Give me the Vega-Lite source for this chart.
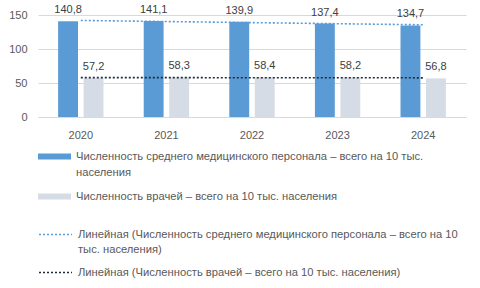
{
  "$schema": "https://vega.github.io/schema/vega-lite/v6.json",
  "width": 428,
  "height": 102,
  "autosize": "none",
  "padding": {"left": 38, "top": 15, "right": 14, "bottom": 171},
  "config": {
    "view": {"stroke": null},
    "font": "Liberation Sans",
    "locale": {"number": {"decimal": ",", "thousands": " ", "grouping": [3], "currency": ["", ""]}},
    "axis": {"labelFont": "Liberation Sans", "labelFontSize": 11, "labelColor": "#595959", "ticks": false, "title": null, "gridColor": "#d9d9d9", "domainColor": "#d9d9d9"},
    "legend": {"labelFont": "Liberation Sans", "labelFontSize": 11.2, "labelColor": "#595959", "labelLimit": 420, "title": null}
  },
  "data": {
    "values": [
      {"year": 2020, "series": "Численность среднего медицинского персонала – всего на 10 тыс. населения", "trend": "Линейная (Численность среднего медицинского персонала – всего на 10 тыс. населения)", "value": 140.8},
      {"year": 2021, "series": "Численность среднего медицинского персонала – всего на 10 тыс. населения", "trend": "Линейная (Численность среднего медицинского персонала – всего на 10 тыс. населения)", "value": 141.1},
      {"year": 2022, "series": "Численность среднего медицинского персонала – всего на 10 тыс. населения", "trend": "Линейная (Численность среднего медицинского персонала – всего на 10 тыс. населения)", "value": 139.9},
      {"year": 2023, "series": "Численность среднего медицинского персонала – всего на 10 тыс. населения", "trend": "Линейная (Численность среднего медицинского персонала – всего на 10 тыс. населения)", "value": 137.4},
      {"year": 2024, "series": "Численность среднего медицинского персонала – всего на 10 тыс. населения", "trend": "Линейная (Численность среднего медицинского персонала – всего на 10 тыс. населения)", "value": 134.7},
      {"year": 2020, "series": "Численность врачей – всего на 10 тыс. населения", "trend": "Линейная (Численность врачей – всего на 10 тыс. населения)", "value": 57.2},
      {"year": 2021, "series": "Численность врачей – всего на 10 тыс. населения", "trend": "Линейная (Численность врачей – всего на 10 тыс. населения)", "value": 58.3},
      {"year": 2022, "series": "Численность врачей – всего на 10 тыс. населения", "trend": "Линейная (Численность врачей – всего на 10 тыс. населения)", "value": 58.4},
      {"year": 2023, "series": "Численность врачей – всего на 10 тыс. населения", "trend": "Линейная (Численность врачей – всего на 10 тыс. населения)", "value": 58.2},
      {"year": 2024, "series": "Численность врачей – всего на 10 тыс. населения", "trend": "Линейная (Численность врачей – всего на 10 тыс. населения)", "value": 56.8}
    ]
  },
  "encoding": {
    "x": {
      "field": "year", "type": "ordinal",
      "scale": {"paddingInner": 0.47, "paddingOuter": 0.235},
      "axis": {"labelAngle": 0, "labelPadding": 12, "grid": false, "domain": true}
    },
    "y": {
      "field": "value", "type": "quantitative",
      "scale": {"domain": [0, 150], "nice": false},
      "axis": {"values": [0, 50, 100, 150], "domain": false, "labelPadding": 11, "grid": true}
    }
  },
  "layer": [
    {
      "mark": {"type": "bar"},
      "encoding": {
        "xOffset": {"field": "series", "type": "nominal", "scale": {"paddingInner": 0.22, "domain": ["Численность среднего медицинского персонала – всего на 10 тыс. населения", "Численность врачей – всего на 10 тыс. населения"]}},
        "color": {
          "field": "series", "type": "nominal",
          "scale": {"domain": ["Численность среднего медицинского персонала – всего на 10 тыс. населения", "Численность врачей – всего на 10 тыс. населения"], "range": ["#5b9bd5", "#d6dce5"]},
          "legend": {
            "orient": "none", "legendX": 0, "legendY": 125, "direction": "vertical",
            "symbolType": "M-1,-0.18H1V0.18H-1Z", "symbolSize": 1089, "symbolStrokeWidth": 0, "labelOffset": 5, "rowPadding": 2,
            "labelExpr": "datum.label == 'Численность среднего медицинского персонала – всего на 10 тыс. населения' ? ['Численность среднего медицинского персонала – всего на 10 тыс.', 'населения'] : datum.label",
            "encode": {"labels": {"update": {"lineHeight": {"value": 16}}}}
          }
        }
      }
    },
    {
      "mark": {"type": "text", "dy": -6, "fontSize": 11, "color": "#404040", "baseline": "bottom"},
      "encoding": {
        "xOffset": {"field": "series", "type": "nominal"},
        "text": {"field": "value", "type": "quantitative", "format": ".1f"}
      }
    },
    {
      "transform": [{"regression": "value", "on": "year", "groupby": ["trend"]}],
      "mark": {"type": "line", "strokeDash": [2, 2], "strokeWidth": 1.6},
      "encoding": {
        "stroke": {
          "field": "trend", "type": "nominal",
          "scale": {"domain": ["Линейная (Численность среднего медицинского персонала – всего на 10 тыс. населения)", "Линейная (Численность врачей – всего на 10 тыс. населения)"], "range": ["#5b9bd5", "#1f2a3a"]},
          "legend": {
            "orient": "none", "legendX": 0, "legendY": 202, "direction": "vertical",
            "symbolType": "stroke", "symbolSize": 1089, "symbolStrokeWidth": 1.6, "symbolDash": [2, 2], "labelOffset": 5, "rowPadding": -1,
            "labelExpr": "datum.label == 'Линейная (Численность среднего медицинского персонала – всего на 10 тыс. населения)' ? ['Линейная (Численность среднего медицинского персонала – всего на 10', 'тыс. населения)'] : datum.label",
            "encode": {"labels": {"update": {"lineHeight": {"value": 15}}}}
          }
        }
      }
    }
  ]
}
